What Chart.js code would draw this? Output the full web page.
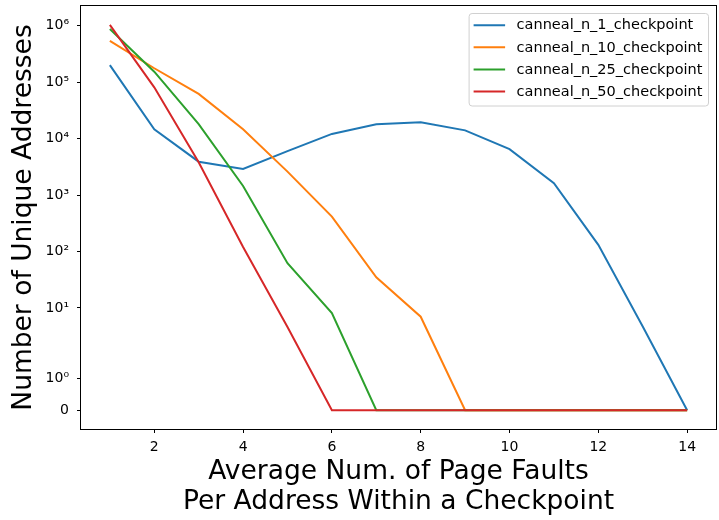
<!DOCTYPE html>
<html>
<head>
<meta charset="utf-8">
<script src="https://cdn.jsdelivr.net/npm/chart.js@4.4.1/dist/chart.umd.min.js"></script>
<style>
  html, body { margin: 0; padding: 0; background: #fff; }
  #wrap { width: 719px; height: 520px; position: relative; }
</style>
</head>
<body>
<div id="wrap"><canvas id="faults"></canvas></div>
<script>
// page faults per address within a checkpoint (canneal runs)
const faultCounts = [1, 2, 3, 4, 5, 6, 7, 8, 9, 10, 11, 12, 13, 14];
const runNames = ['canneal_n_1_checkpoint', 'canneal_n_10_checkpoint', 'canneal_n_25_checkpoint', 'canneal_n_50_checkpoint'];
const runColors = ['#1f77b4', '#ff7f0e', '#2ca02c', '#d62728'];

const n1Addrs  = [200000, 14600, 3900, 2900, 6000, 12100, 18000, 19500, 14000, 6500, 1620, 131, 4.7, 0];
const n10Addrs = [540000, 176000, 62000, 14600, 2600, 415, 35, 7, 0, 0, 0, 0, 0, 0];
const n25Addrs = [870000, 153000, 18000, 1450, 62, 8.1, 0, 0, 0, 0, 0, 0, 0, 0];
const n50Addrs = [1030000, 81000, 3800, 120, 4.6, 0, 0, 0, 0, 0, 0, 0, 0, 0];

const xTicks = [2, 4, 6, 8, 10, 12, 14];
const yTicks = [0, 1, 10, 100, 1e3, 1e4, 1e5, 1e6];
const supDigits = '⁰¹²³⁴⁵⁶⁷⁸⁹';

const FONT = '"DejaVu Sans", "Liberation Sans", sans-serif';

/* symlog transform like matplotlib (linthresh 2, linscale 1, base 10) */
const LIN_T = 2;
const LIN_ADJ = 1 / (1 - 1 / 10);
function symlog(v) {
    const a = Math.abs(v);
    const t = a <= LIN_T ? a * LIN_ADJ : LIN_T * (LIN_ADJ + Math.log10(a / LIN_T));
    return v < 0 ? -t : t;
}
function symexp(t) {
    const a = Math.abs(t);
    const v = a <= LIN_T * LIN_ADJ ? a / LIN_ADJ : LIN_T * Math.pow(10, a / LIN_T - LIN_ADJ);
    return t < 0 ? -v : v;
}

class SymlogScale extends Chart.Scale {
    static id = 'symlog';
    static defaults = {};

    determineDataLimits() {
        const { min, max } = this.getMinMax(true);
        this.min = this.options.min ?? min;
        this.max = this.options.max ?? max;
    }
    buildTicks() {
        return yTicks.filter(v => v >= this.min && v <= this.max).map(v => ({ value: v }));
    }
    configure() {
        super.configure();
        this._tStart = symlog(this.min);
        this._tRange = symlog(this.max) - this._tStart;
    }
    getPixelForValue(v) {
        return this.getPixelForDecimal((symlog(v) - this._tStart) / this._tRange);
    }
    getValueForPixel(p) {
        return symexp(this.getDecimalForPixel(p) * this._tRange + this._tStart);
    }
    getLabelForValue(v) {
        return String(v);
    }
}
Chart.register(SymlogScale);

function tickLabel(v) {
    if (v === 0) return '0';
    const e = Math.round(Math.log10(v));
    return '10' + String(e).split('').map(d => supDigits[+d]).join('');
}

// axes box + matplotlib style legend
const frameAndLegend = {
    id: 'frameAndLegend',
    afterDatasetsDraw(chart) {
        const { ctx, chartArea: a } = chart;
        ctx.save();
        ctx.strokeStyle = '#000';
        ctx.lineWidth = 1;
        ctx.strokeRect(a.left - 0.5, a.top - 0.5, a.right - a.left + 1, a.bottom - a.top + 1);

        ctx.font = '14.5px ' + FONT;
        const textW = Math.max(...runNames.map(n => ctx.measureText(n).width));
        const handle = 31.5, gap = 11.5, padL = 4.5, padR = 6;
        const bw = padL + handle + gap + textW + padR;
        const bh = 92.5;
        const bx = a.right - 7.5 - bw;
        const by = a.top + 7.5;

        ctx.beginPath();
        ctx.roundRect(bx, by, bw, bh, 3);
        ctx.fillStyle = 'rgba(255,255,255,0.8)';
        ctx.fill();
        ctx.strokeStyle = '#d0d0d0';
        ctx.stroke();

        runNames.forEach((name, i) => {
            const y = by + 11.7 + i * 22.1;
            ctx.beginPath();
            ctx.moveTo(bx + padL, y);
            ctx.lineTo(bx + padL + handle, y);
            ctx.strokeStyle = runColors[i];
            ctx.lineWidth = 2;
            ctx.stroke();
            ctx.fillStyle = '#000';
            ctx.textBaseline = 'middle';
            ctx.textAlign = 'left';
            ctx.fillText(name, bx + padL + handle + gap, y + 0.5);
        });
        ctx.restore();
    }
};

const seriesData = [n1Addrs, n10Addrs, n25Addrs, n50Addrs];

new Chart(document.getElementById('faults'), {
    type: 'line',
    data: {
        datasets: seriesData.map((vals, i) => ({
            label: runNames[i],
            data: faultCounts.map((x, j) => ({ x, y: vals[j] })),
            borderColor: runColors[i],
            backgroundColor: runColors[i],
            borderWidth: 2,
            pointRadius: 0,
            tension: 0,
            fill: false,
            order: seriesData.length - i
        }))
    },
    options: {
        responsive: true,
        maintainAspectRatio: false,
        animation: false,
        events: [],
        layout: { padding: { left: 0, right: 3, top: 6, bottom: 0 } },
        plugins: {
            legend: { display: false },
            tooltip: { enabled: false }
        },
        scales: {
            x: {
                type: 'linear',
                min: 0.35,
                max: 14.65,
                afterBuildTicks: s => { s.ticks = xTicks.map(v => ({ value: v })); },
                afterFit: s => { s.height = 91; s.paddingLeft = 0; s.paddingRight = 0; },
                border: { display: false },
                grid: { drawOnChartArea: false, drawTicks: true, tickLength: 4, tickColor: '#000', tickWidth: 1 },
                ticks: { color: '#000', padding: 6, maxRotation: 0, font: { family: FONT, size: 14 } },
                title: {
                    display: true,
                    text: ['Average Num. of Page Faults', 'Per Address Within a Checkpoint'],
                    color: '#000',
                    font: { family: FONT, size: 26.5, lineHeight: 1.13 },
                    padding: { top: 0, bottom: 3 }
                }
            },
            y: {
                type: 'symlog',
                min: -0.6,
                max: 2.23e6,
                afterFit: s => { s.width = 81; s.paddingTop = 0; s.paddingBottom = 0; },
                border: { display: false },
                grid: { drawOnChartArea: false, drawTicks: true, tickLength: 4, tickColor: '#000', tickWidth: 1 },
                ticks: { color: '#000', padding: 8, font: { family: FONT, size: 14 }, callback: v => tickLabel(v) },
                title: {
                    display: true,
                    text: 'Number of Unique Addresses',
                    color: '#000',
                    font: { family: FONT, size: 26.5, lineHeight: 1.15 },
                    padding: { top: 9, bottom: 0 }
                }
            }
        }
    },
    plugins: [frameAndLegend]
});
</script>
</body>
</html>
